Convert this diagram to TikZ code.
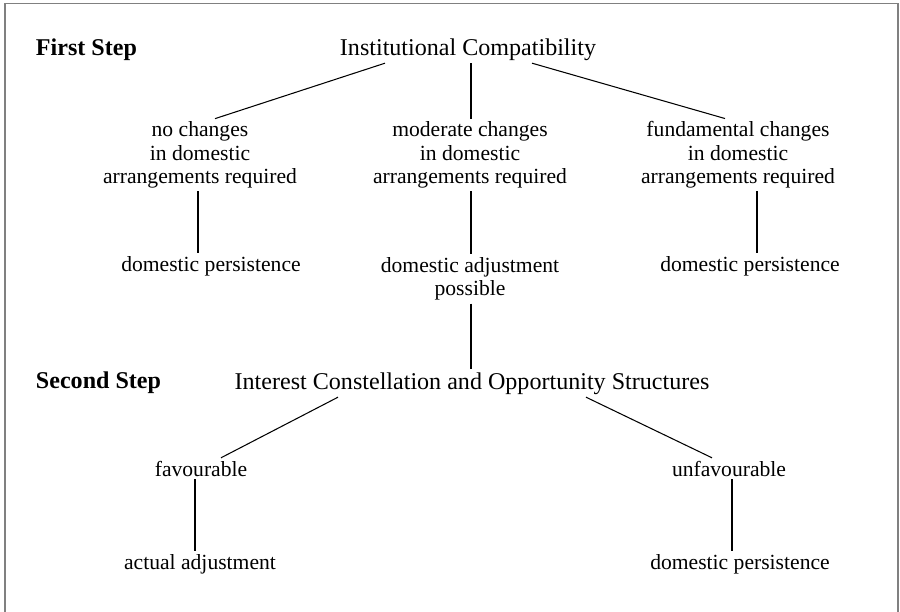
\documentclass[tikz,border=0pt]{standalone}
\usepackage{fontspec}
\setmainfont{Liberation Serif}
\usetikzlibrary{positioning,calc}
\definecolor{frameGray}{HTML}{808080}

\begin{document}
\begin{tikzpicture}[
  x=0.02cm, y=-0.02cm,
  every node/.style={align=center, inner sep=1.5pt},
  stage/.style={font=\bfseries\fontsize{13.7}{16}\selectfont, anchor=base west},
  head/.style={font=\fontsize{13.7}{16}\selectfont, anchor=base},
  item/.style={font=\fontsize{12.3}{13.4}\selectfont},
  leaf/.style={item, anchor=base},
  link/.style={line width=0.6pt, black}
]
 \useasboundingbox (0,0) rectangle (900,612);

 % frame (open at the bottom)
 \draw[frameGray, line width=0.04cm] (5,613) -- (5,3.5) -- (898,3.5) -- (898,613);

 % First step
 \node[stage] (s1) at (33,55) {First Step};
 \node[head] (ic) at (468,55) {Institutional Compatibility};

 \node[item] (nc) at (200,155) {no changes\\in domestic\\arrangements required};
 \node[item] (mc) at (470,155) {moderate changes\\in domestic\\arrangements required};
 \node[item] (fc) at (738,155) {fundamental changes\\in domestic\\arrangements required};

 \draw[link] ($(ic.south)+(-83,0)$) -- ($(nc.north)+(15,0)$);
 \draw[link] ($(ic.south)+(3,0)$) -- ($(mc.north)+(1,0)$);
 \draw[link] ($(ic.south)+(64,0)$) -- ($(fc.north)+(-13,0)$);

 \node[leaf] (dp1) at (211,271) {domestic persistence};
 \node[item] (da) at (470,279) {domestic adjustment\\possible};
 \node[leaf] (dp2) at (750,271) {domestic persistence};

 \draw[link] ($(nc.south)+(-2,0)$) -- ($(dp1.north)+(-13,0)$);
 \draw[link] ($(mc.south)+(1,0)$) -- ($(da.north)+(1,0)$);
 \draw[link] ($(fc.south)+(19,0)$) -- ($(dp2.north)+(7,0)$);

 % Second step
 \node[stage] (s2) at (33,388) {Second Step};
 \node[head] (ioc) at (472,389) {Interest Constellation and Opportunity Structures};
 \draw[link] ($(da.south)+(1,0)$) -- ($(ioc.north)+(-1,0)$);

 \node[leaf] (fav) at (201,476) {favourable};
 \node[leaf] (unf) at (729,476) {unfavourable};
 \draw[link] ($(ioc.south)+(-134,0)$) -- ($(fav.north)+(20,0)$);
 \draw[link] ($(ioc.south)+(114,0)$) -- ($(unf.north)+(-17,0)$);

 \node[leaf] (aa) at (200,569) {actual adjustment};
 \node[leaf] (dp3) at (740,569) {domestic persistence};
 \draw[link] ($(fav.south)+(-6,0)$) -- ($(aa.north)+(-5,0)$);
 \draw[link] ($(unf.south)+(3,0)$) -- ($(dp3.north)+(-8,0)$);
\end{tikzpicture}
\end{document}
